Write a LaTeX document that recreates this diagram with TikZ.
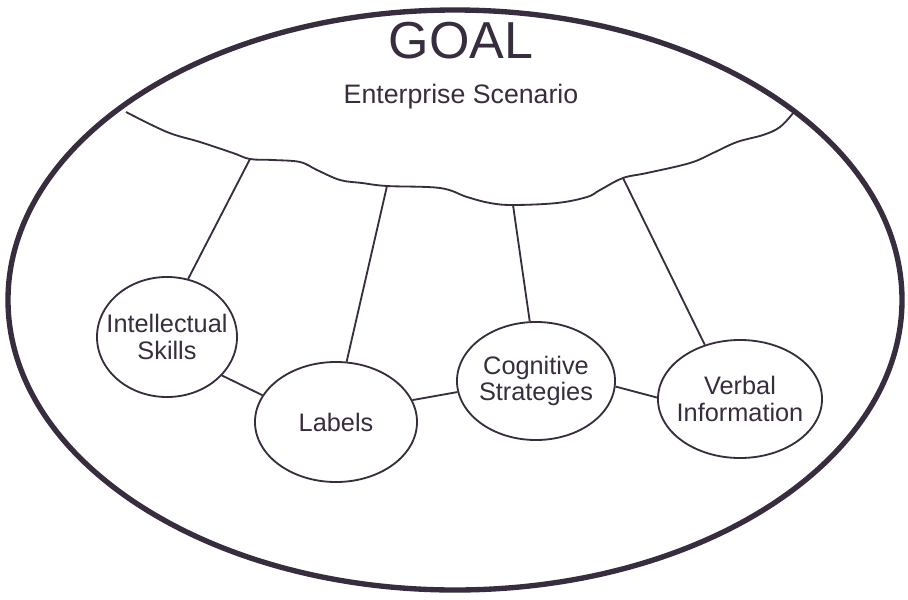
\documentclass[tikz,border=0pt]{standalone}
\usepackage{fontspec}
\setmainfont{Liberation Sans}
\usetikzlibrary{shapes.geometric}
\definecolor{ink}{RGB}{55,45,62}

\begin{document}
\begin{tikzpicture}[x=0.025cm, y=-0.025cm,
        bubble/.style={draw=ink, line width=1.3pt, ellipse, inner xsep=-0.4cm, inner ysep=0pt,
            align=center, text=ink, font=\fontsize{18}{19}\selectfont},
        link/.style={draw=ink, line width=1.3pt}]
        \useasboundingbox (0,0) rectangle (908,599);
        \fill[white] (0,0) rectangle (908,599);
        \draw[draw=ink, line width=3.8pt] (455,300) ellipse (447 and 290);
        \node[text=ink, font=\fontsize{37}{40}\selectfont] (goal) at (461,41) {GOAL};
        \node[text=ink, font=\fontsize{19}{22}\selectfont] (scen) at (461,97) {Enterprise Scenario};
        % the scenario boundary
        \draw[link] plot[smooth, tension=0.6] coordinates {(126,112) (167,132) (200,142) (233,153) (250,159)
            (273,160) (300,162) (317,170) (340,180) (362,183) (387,186) (440,188) (467,197) (490,203)
            (513,205) (557,203) (587,197) (600,190) (623,178) (647,173) (690,163) (713,153) (737,142)
            (763,135) (780,127) (794,112)};
        \coordinate (j1) at (250,159);
        \coordinate (j2) at (387,186);
        \coordinate (j3) at (513,205);
        \coordinate (j4) at (623,178);
        % outcomes
        \node[bubble, minimum width=3.5cm, minimum height=3cm] (intel) at (167,337) {Intellectual\\Skills};
        \node[bubble, minimum width=4.05cm, minimum height=3cm] (labels) at (336,422) {Labels};
        \node[bubble, minimum width=3.95cm, minimum height=2.95cm] (cogn) at (536,381) {Cognitive\\Strategies};
        \node[bubble, minimum width=4.1cm, minimum height=2.95cm] (verbal) at (740,399) {Verbal\\Information};
        \draw[link] (j1) -- (intel.70);
        \draw[link] (j2) -- (labels.80);
        \draw[link] (j3) -- (cogn.96);
        \draw[link] (j4) -- (verbal.123);
        \draw[link] (intel.-35) -- (labels.160);
        \draw[link] (labels.16) -- (cogn.188);
        \draw[link] (cogn.-4) -- (verbal.179);
    \end{tikzpicture}
\end{document}
